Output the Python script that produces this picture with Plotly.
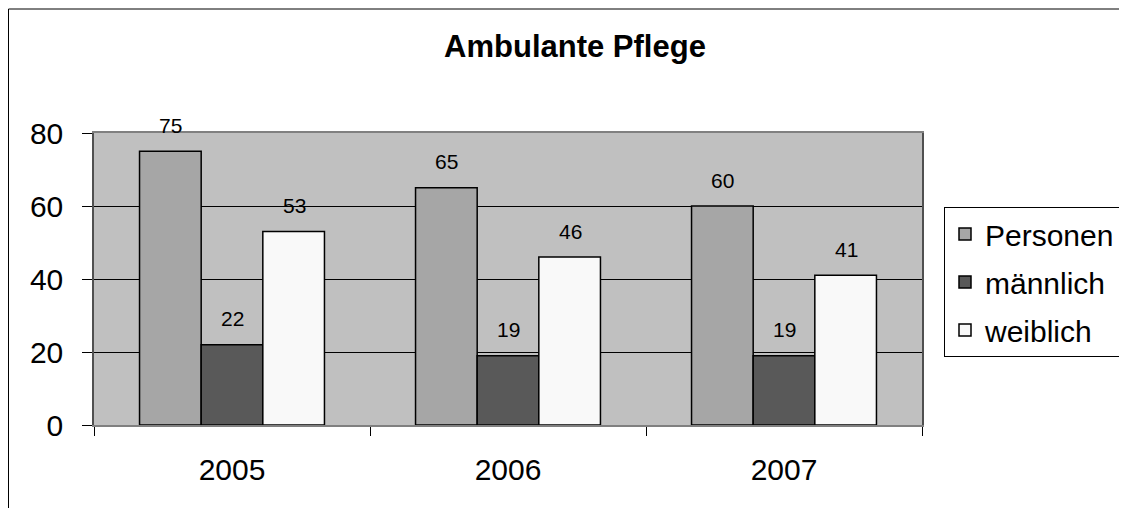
import plotly.graph_objects as go

years = ["2005", "2006", "2007"]
personen = [75, 65, 60]
maennlich = [22, 19, 19]
weiblich = [53, 46, 41]
series_names = ["Personen", "männlich", "weiblich"]
series_colors = ["#A6A6A6", "#595959", "#F9F9F9"]
y_ticks = [0, 20, 40, 60, 80]

OFF = 8  # page body margin
W, H = 1127, 508
# plot area in screen pixels
PX0, PX1, PY0, PY1 = 94, 922, 133, 425
L = PX0 - OFF
T = PY0 - OFF
R = W - (PX1 - OFF)
B = H - (PY1 - OFF)
FONT = "Liberation Sans, Arial, sans-serif"

fig = go.Figure()
all_series = [personen, maennlich, weiblich]
for i, (name, vals, col) in enumerate(zip(series_names, all_series, series_colors)):
    fig.add_trace(go.Bar(
        x=years, y=vals, name=name,
        marker=dict(color=col, line=dict(color="#000000", width=1.5)),
        legendgroup=name,
    ))
    for k, v in enumerate(vals):
        fig.add_annotation(
            x=k, y=v, text=str(v), showarrow=False,
            xshift=(i - 1) * 62, yshift=26, yanchor="middle",
            font=dict(family=FONT, size=21, color="#000000"),
        )

pw = PX1 - PX0
ph = PY1 - PY0
def px_x(x):
    return (x - PX0) / pw
def px_y(y):
    return (PY1 - y) / ph

fig.add_shape(type="rect", xref="paper", yref="paper",
              x0=px_x(OFF + 0.5), x1=px_x(1140), y0=px_y(520), y1=px_y(9),
              line=dict(color="#000000", width=1), fillcolor="rgba(0,0,0,0)", layer="below")

fig.update_layout(
    width=W, height=H,
    margin=dict(l=L, r=R, t=T, b=B, autoexpand=False),
    paper_bgcolor="#FFFFFF",
    plot_bgcolor="#C0C0C0",
    barmode="group",
    bargap=0.33,
    bargroupgap=0,
    font=dict(family=FONT, color="#000000"),
    title=dict(text="<b>Ambulante Pflege</b>", font=dict(family=FONT, size=31, color="#000000"),
               x=(575 - OFF) / W, xref="container", xanchor="center",
               y=1 - (46 - OFF) / H, yref="container", yanchor="middle"),
    legend=dict(
        x=px_x(944), y=px_y(207), xanchor="left", yanchor="top",
        bordercolor="#000000", borderwidth=1, bgcolor="#FFFFFF",
        font=dict(family=FONT, size=30, color="#000000"),
        tracegroupgap=6, traceorder="grouped",
    ),
    xaxis=dict(
        type="category", range=[-0.5, 2.5], showgrid=False,
        showline=True, linecolor="#808080", linewidth=1.5, mirror=True,
        ticks="outside", tickson="boundaries", ticklen=9, tickcolor="#000000",
        tickfont=dict(family=FONT, size=30, color="#000000"),
        ticklabelstandoff=17, tickangle=0,
    ),
    yaxis=dict(
        range=[0, 80], tickvals=y_ticks,
        showgrid=True, gridcolor="#000000", gridwidth=1,
        showline=True, linecolor="#505050", linewidth=1.5, mirror=True,
        ticks="outside", ticklen=10, tickcolor="#000000",
        tickfont=dict(family=FONT, size=30, color="#000000"),
        ticklabelstandoff=13, zeroline=False,
    ),
)

fig.write_html("out.html")
